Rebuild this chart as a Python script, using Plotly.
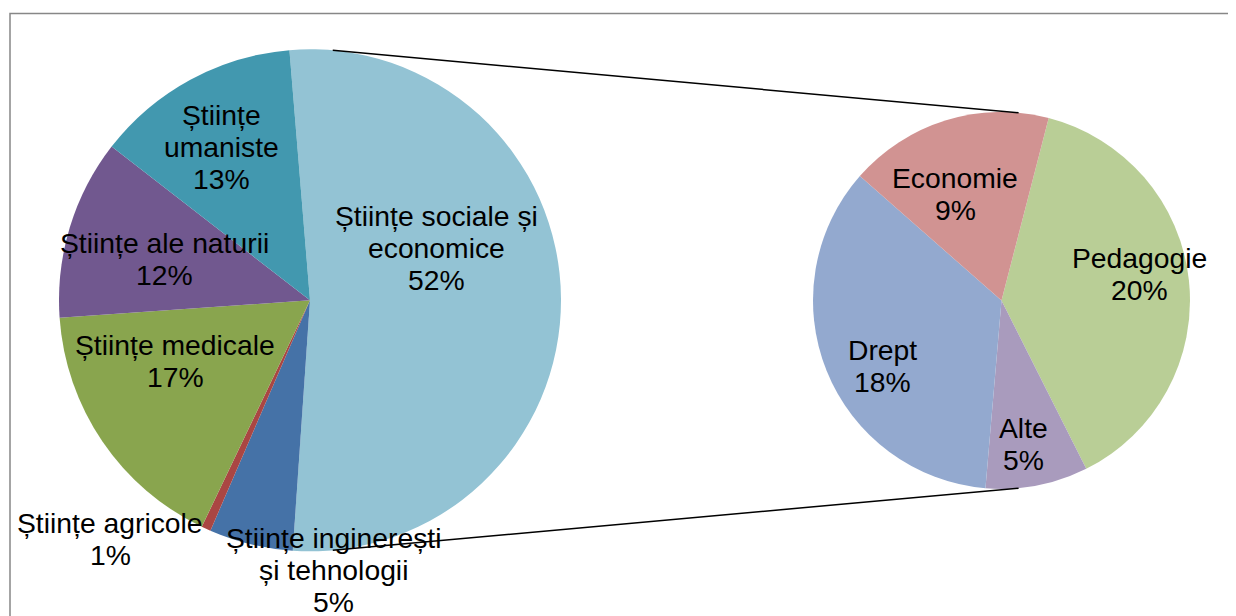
import math
import plotly.graph_objects as go

# ---------------- data ----------------
main_labels = ["Științe sociale și economice", "Științe inginerești și tehnologii",
               "Științe agricole", "Științe medicale", "Științe ale naturii",
               "Științe umaniste"]
main_values = [52.4, 5.4, 0.6, 16.8, 11.6, 13.2]
main_colors = ["#93C3D4", "#4572A7", "#AA4643", "#89A54E", "#71588F", "#4298AF"]

sub_labels = ["Pedagogie", "Alte", "Drept", "Economie"]
sub_values = [20.2, 4.6, 18.4, 9.2]
sub_colors = ["#B9CE96", "#A99BBD", "#93A9CF", "#D19392"]

# label text split into lines (as shown on chart)
main_label_lines = [["Științe sociale și", "economice"],
                    ["Științe inginerești", "și tehnologii"],
                    ["Științe agricole"],
                    ["Științe medicale"],
                    ["Științe ale naturii"],
                    ["Științe", "umaniste"]]
sub_label_lines = [["Pedagogie"], ["Alte"], ["Drept"], ["Economie"]]

# ---------------- geometry / style ----------------
W, H = 1236, 616
OFF = 8  # page body margin of the browser
MAIN_C, MAIN_R = (310.0, 300.3), 251.0
SUB_C, SUB_R = (1001.5, 300.5), 188.5
MAIN_ROT, SUB_ROT = -4.7, 14.5
FONT = "Liberation Sans, Arial, sans-serif"
FS = 28.3
LINE_H = 31.7

# label block centres (screen pixels) chosen to match the reference layout
main_label_pos = [(436, 248), (334, 570), (110, 539), (175, 361), (164, 259), (221, 147)]
sub_label_pos = [(1139, 274), (1023, 444), (882, 366), (955, 194)]


def px(x):
    return (x - OFF) / W


def py(y):
    return 1 - (y - OFF) / H


def domain(c, r):
    return dict(x=[px(c[0] - r), px(c[0] + r)], y=[py(c[1] + r), py(c[1] - r)])


fig = go.Figure()
fig.add_trace(go.Pie(labels=main_labels, values=main_values, sort=False,
                     direction="clockwise", rotation=MAIN_ROT,
                     marker=dict(colors=main_colors, line=dict(width=0)),
                     textinfo="none", hoverinfo="label+percent",
                     domain=domain(MAIN_C, MAIN_R), showlegend=False))
fig.add_trace(go.Pie(labels=sub_labels, values=sub_values, sort=False,
                     direction="clockwise", rotation=SUB_ROT,
                     marker=dict(colors=sub_colors, line=dict(width=0)),
                     textinfo="none", hoverinfo="label+value",
                     domain=domain(SUB_C, SUB_R), showlegend=False))

total = sum(main_values)
annotations = []


def add_label(lines, value, pos):
    pct = f"{round(value / total * 100)}%"
    all_lines = lines + [pct]
    n = len(all_lines)
    for i, t in enumerate(all_lines):
        y = pos[1] + (i - (n - 1) / 2) * LINE_H
        annotations.append(dict(x=px(pos[0]), y=py(y), xref="paper", yref="paper",
                                text=t, showarrow=False, xanchor="center", yanchor="middle",
                                font=dict(family=FONT, size=FS, color="#000000")))


for lines, v, p in zip(main_label_lines, main_values, main_label_pos):
    add_label(lines, v, p)
for lines, v, p in zip(sub_label_lines, sub_values, sub_label_pos):
    add_label(lines, v, p)

# connector lines between the pies (tangent-ish points)
ang = math.radians(5.2)
shapes = []
for sgn in (-1, 1):
    x0 = MAIN_C[0] + MAIN_R * math.sin(ang)
    y0 = MAIN_C[1] + sgn * MAIN_R * math.cos(ang)
    x1 = SUB_C[0] + SUB_R * math.sin(ang)
    y1 = SUB_C[1] + sgn * SUB_R * math.cos(ang)
    shapes.append(dict(type="line", xref="paper", yref="paper",
                       x0=px(x0), y0=py(y0), x1=px(x1), y1=py(y1),
                       line=dict(color="#000000", width=1.5), layer="above"))

# chart area border (extends past the right/bottom of the view)
shapes.append(dict(type="rect", xref="paper", yref="paper",
                   x0=px(10), y0=py(660), x1=px(1280), y1=py(13.5),
                   line=dict(color="#878787", width=1.5), layer="below"))

fig.update_layout(width=W, height=H, margin=dict(l=0, r=0, t=0, b=0),
                  paper_bgcolor="white", plot_bgcolor="white",
                  annotations=annotations, shapes=shapes, showlegend=False)

fig.write_html("out.html")
